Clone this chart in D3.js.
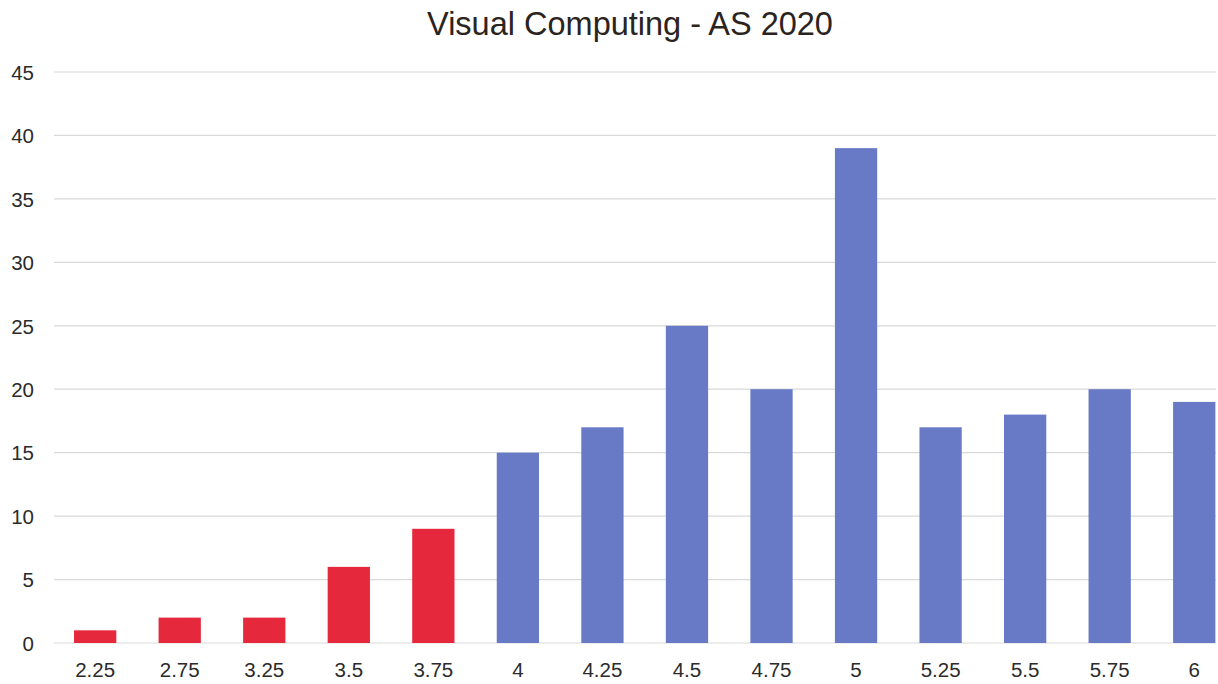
<!DOCTYPE html>
<html>
<head>
<meta charset="utf-8">
<script src="https://cdn.jsdelivr.net/npm/d3@7"></script>
<style>
  html, body { margin: 0; padding: 0; background: #ffffff; overflow: hidden; }
  svg { display: block; font-family: "Liberation Sans", Arial, sans-serif; }
</style>
</head>
<body>
<svg id="chart" width="1218" height="684"></svg>
<script>
const title = "Visual Computing - AS 2020";
const grades = ["2.25", "2.75", "3.25", "3.5", "3.75", "4", "4.25", "4.5", "4.75", "5", "5.25", "5.5", "5.75", "6"];
const counts = [1, 2, 2, 6, 9, 15, 17, 25, 20, 39, 17, 18, 20, 19];
const yTicks = [0, 5, 10, 15, 20, 25, 30, 35, 40, 45];
const passMark = 4;

const svg = d3.select("#chart");

const x = d3.scaleBand()
  .domain(grades)
  .range([52.9, 1236.5])
  .paddingInner(0.5)
  .paddingOuter(0.25);

const y = d3.scaleLinear()
  .domain([0, 45])
  .range([643, 72]);

const gridLeft = 54, gridRight = 1216;

// gridlines
svg.append("g")
  .selectAll("line")
  .data(yTicks)
  .join("line")
  .attr("x1", gridLeft)
  .attr("x2", gridRight)
  .attr("y1", d => y(d))
  .attr("y2", d => y(d))
  .attr("stroke", "#d9d9d9")
  .attr("stroke-width", 1.2);

// y labels
svg.append("g")
  .selectAll("text")
  .data(yTicks)
  .join("text")
  .attr("x", 34)
  .attr("y", d => y(d))
  .attr("dy", "0.38em")
  .attr("text-anchor", "end")
  .attr("font-size", 20.5)
  .attr("fill", "#2b2b2b")
  .text(d => d);

// bars
svg.append("g")
  .selectAll("rect")
  .data(grades.map((g, i) => ({ g, v: counts[i] })))
  .join("rect")
  .attr("x", d => x(d.g))
  .attr("width", x.bandwidth())
  .attr("y", d => y(d.v))
  .attr("height", d => y(0) - y(d.v))
  .attr("fill", d => (+d.g < passMark ? "#e5283c" : "#6879c6"));

// x labels
svg.append("g")
  .selectAll("text")
  .data(grades)
  .join("text")
  .attr("x", d => x(d) + x.bandwidth() / 2)
  .attr("y", 677)
  .attr("text-anchor", "middle")
  .attr("font-size", 20.5)
  .attr("fill", "#2b2b2b")
  .text(d => d);

// title
svg.append("text")
  .attr("x", 630)
  .attr("y", 35)
  .attr("text-anchor", "middle")
  .attr("font-size", 32.5)
  .attr("fill", "#2b2320")
  .text(title);
</script>
</body>
</html>
